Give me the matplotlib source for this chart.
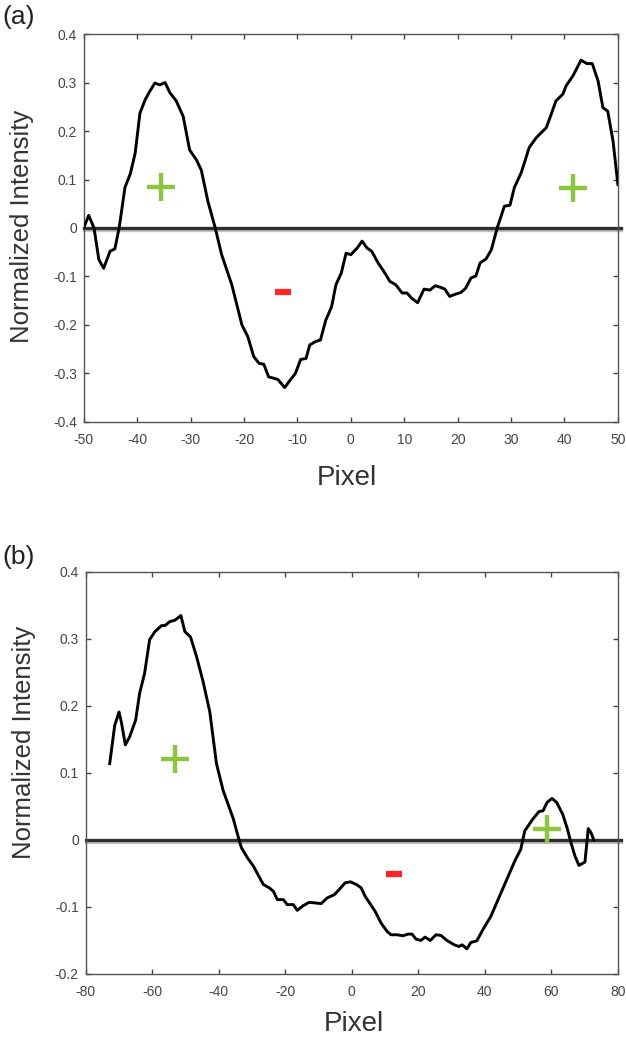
import matplotlib
matplotlib.use('Agg')
import matplotlib.pyplot as plt
import matplotlib.patheffects as pe
from matplotlib.ticker import FuncFormatter

plt.rcParams['font.family'] = ['Liberation Sans', 'DejaVu Sans']
plt.rcParams['axes.unicode_minus'] = False

# panel (a) profile
a_x = [-50, -49.1, -48.1, -47.2, -46.3, -45.1, -44.2, -43.4, -42.3, -41.3, -40.4, -39.5,
       -38.5, -37.6, -36.7, -35.8, -34.8, -33.9, -32.7, -31.4, -30.2, -28.9, -28.0, -26.8,
       -25.4, -24.2, -22.3, -20.4, -19.3, -18.2, -17.2, -16.3, -15.4, -13.7, -12.4, -11.6,
       -10.4, -9.4, -8.4, -7.7, -6.6, -5.7, -4.7, -3.6, -2.8, -1.8, -0.9, 0.0, 1.2, 2.1,
       3.0, 3.9, 5.1, 6.2, 7.3, 8.4, 9.6, 10.5, 11.4, 12.5, 13.7, 14.8, 15.8, 16.7, 17.6,
       18.5, 19.7, 20.6, 21.5, 22.5, 23.4, 24.2, 25.3, 26.3, 27.4, 28.75, 29.8, 30.6, 31.9,
       33.4, 34.7, 36.6, 37.5, 38.4, 39.7, 40.3, 41.6, 43.1, 44.2, 45.2, 46.3, 47.2, 48.1,
       49.1, 50.0]
a_y = [0.001, 0.026, 0.0, -0.065, -0.083, -0.048, -0.043, 0.0, 0.084, 0.112, 0.154, 0.237,
       0.265, 0.283, 0.299, 0.295, 0.300, 0.279, 0.262, 0.230, 0.161, 0.140, 0.119, 0.056,
       0.0, -0.055, -0.117, -0.200, -0.224, -0.265, -0.279, -0.281, -0.307, -0.312, -0.329,
       -0.317, -0.300, -0.271, -0.269, -0.241, -0.234, -0.231, -0.190, -0.162, -0.117,
       -0.093, -0.052, -0.055, -0.041, -0.027, -0.041, -0.048, -0.072, -0.090, -0.110,
       -0.117, -0.134, -0.134, -0.145, -0.154, -0.126, -0.128, -0.119, -0.122, -0.126,
       -0.141, -0.136, -0.133, -0.124, -0.103, -0.099, -0.072, -0.064, -0.045, 0.0, 0.045,
       0.047, 0.083, 0.114, 0.166, 0.186, 0.207, 0.234, 0.262, 0.276, 0.293, 0.314, 0.346,
       0.339, 0.339, 0.303, 0.248, 0.241, 0.179, 0.090]

# panel (b) profile
b_x = [-72.8, -71.3, -70.0, -69.3, -68.1, -66.8, -65.0, -63.8, -62.3, -60.8, -59.2, -57.2,
       -56.2, -54.7, -53.2, -52.4, -51.4, -50.2, -48.5, -46.7, -44.7, -42.7, -40.7, -38.7,
       -37.4, -35.6, -34.1, -33.2, -31.4, -29.6, -26.6, -24.8, -23.6, -22.4, -20.6, -19.4,
       -17.6, -16.4, -14.6, -12.8, -11.0, -9.2, -7.4, -5.2, -3.8, -2.0, -0.4, 1.4, 2.8,
       4.0, 5.2, 7.0, 8.8, 10.6, 11.8, 13.6, 15.4, 16.9, 18.1, 19.3, 20.8, 22.0, 23.6, 25.3,
       26.8, 28.6, 30.8, 32.2, 33.2, 34.6, 35.8, 37.6, 39.4, 41.8, 44.2, 46.6, 49.0, 50.8,
       52.0, 54.4, 56.3, 57.5, 58.7, 60.2, 61.6, 63.4, 64.7, 65.9, 67.1, 68.3, 70.1, 71.1,
       71.9, 72.8]
b_y = [0.114, 0.171, 0.191, 0.176, 0.142, 0.154, 0.179, 0.219, 0.249, 0.299, 0.311, 0.320,
       0.320, 0.326, 0.328, 0.331, 0.335, 0.311, 0.303, 0.274, 0.236, 0.191, 0.114, 0.074,
       0.056, 0.031, 0.0035, -0.0115, -0.0265, -0.039, -0.0665, -0.0715, -0.0765, -0.089,
       -0.089, -0.0965, -0.0965, -0.105, -0.098, -0.093, -0.094, -0.095, -0.0865, -0.0815,
       -0.074, -0.064, -0.0625, -0.0665, -0.0715, -0.084, -0.093, -0.1065, -0.124, -0.1365,
       -0.1415, -0.1415, -0.143, -0.1405, -0.1405, -0.148, -0.150, -0.145, -0.150, -0.1415,
       -0.1425, -0.150, -0.1565, -0.159, -0.1565, -0.1625, -0.153, -0.1505, -0.134, -0.114,
       -0.0865, -0.059, -0.0315, -0.014, 0.0135, 0.031, 0.0425, 0.0435, 0.056, 0.062, 0.056,
       0.0385, 0.0185, -0.004, -0.024, -0.038, -0.033, 0.017, 0.011, 0.0]

# sign annotations
a_plus_x = [-35.6, 41.6]
a_plus_y = [0.085, 0.083]
a_minus_x = [-12.7]
a_minus_y = [-0.132]
b_plus_x = [-53.2, 58.7]
b_plus_y = [0.121, 0.017]
b_minus_x = [12.8]
b_minus_y = [-0.0505]

a_xticks = list(range(-50, 51, 10))
a_yticks = [-0.4, -0.3, -0.2, -0.1, 0, 0.1, 0.2, 0.3, 0.4]
b_xticks = list(range(-80, 81, 20))
b_yticks = [-0.2, -0.1, 0, 0.1, 0.2, 0.3, 0.4]

fmt = FuncFormatter(lambda v, p: '%g' % round(v, 2))


def style_axes(ax, xticks, yticks, xlab_pos, ylab_pos):
    ax.set_xticks(xticks)
    ax.set_yticks(yticks)
    ax.xaxis.set_major_formatter(fmt)
    ax.yaxis.set_major_formatter(fmt)
    ax.tick_params(direction='in', length=3.5, width=1, colors='#444444',
                   labelsize=10, top=True, right=True)
    ax.tick_params(axis='x', pad=8)
    ax.tick_params(axis='y', pad=5)
    for s in ax.spines.values():
        s.set_color('#555555')
        s.set_linewidth(1.0)
    ax.set_xlabel('Pixel', fontsize=20, color='#333333')
    ax.set_ylabel('Normalized Intensity', fontsize=18.5, color='#333333')
    ax.xaxis.set_label_coords(*xlab_pos)
    ax.yaxis.set_label_coords(*ylab_pos)


def zero_line(ax):
    ax.axhline(0, xmin=0, xmax=1.005, color='#2e2e2e', lw=2.4, clip_on=False, zorder=2,
               path_effects=[pe.SimpleLineShadow(offset=(0, -1.5), shadow_color='#999999',
                                                 alpha=0.6), pe.Normal()])


def signs(ax, px, py, mx, my):
    ax.plot(px, py, ls='none', marker='+', ms=20, mew=3.2, color='#8cc63f', zorder=4)
    ax.plot(mx, my, ls='none', marker='_', ms=12, mew=4.5, color='#ff2525', zorder=4)


fig = plt.figure(figsize=(6.26, 10.43), dpi=100)

ax1 = fig.add_axes([0.134, 0.5954, 0.853, 0.372])
zero_line(ax1)
ax1.plot(a_x, a_y, color='black', lw=2.1, zorder=3)
signs(ax1, a_plus_x, a_plus_y, a_minus_x, a_minus_y)
ax1.set_xlim(-50, 50)
ax1.set_ylim(-0.4, 0.4)
style_axes(ax1, a_xticks, a_yticks, (0.492, -0.112), (-0.094, 0.505))

ax2 = fig.add_axes([0.137, 0.0662, 0.850, 0.3854])
zero_line(ax2)
ax2.plot(b_x, b_y, color='black', lw=2.1, zorder=3)
signs(ax2, b_plus_x, b_plus_y, b_minus_x, b_minus_y)
ax2.set_xlim(-80, 80)
ax2.set_ylim(-0.2, 0.4)
style_axes(ax2, b_xticks, b_yticks, (0.504, -0.093), (-0.094, 0.575))

fig.text(0.003, 0.984, '(a)', fontsize=19, color='#222222', va='center')
fig.text(0.003, 0.466, '(b)', fontsize=19, color='#222222', va='center')

fig.savefig('out.png', dpi=100)
